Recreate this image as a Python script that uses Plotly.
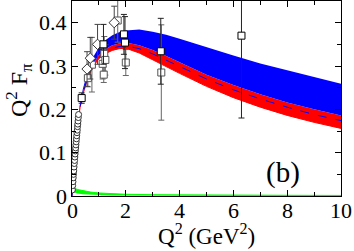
import plotly.graph_objects as go

# ---- theory bands ----
band_q2 = [0, 0.05, 0.1, 0.2, 0.3, 0.4, 0.6, 0.8, 1.0, 1.25, 1.5, 1.75, 2.0, 2.5, 3.0, 3.5, 4.0, 5.0, 6.0, 7.0, 8.0, 9.0, 10.0]
blue_top = [0, 0.049, 0.094, 0.168, 0.214, 0.246, 0.292, 0.322, 0.343, 0.360, 0.371, 0.378, 0.382, 0.384, 0.379, 0.372, 0.363, 0.343, 0.324, 0.306, 0.290, 0.274, 0.259]
blue_bot = [0, 0.048, 0.092, 0.164, 0.208, 0.238, 0.281, 0.307, 0.325, 0.339, 0.348, 0.352, 0.354, 0.348, 0.337, 0.323, 0.309, 0.280, 0.256, 0.235, 0.216, 0.200, 0.186]
red_bot = [0, 0.047, 0.090, 0.161, 0.204, 0.233, 0.275, 0.300, 0.317, 0.329, 0.336, 0.340, 0.341, 0.330, 0.314, 0.299, 0.283, 0.253, 0.227, 0.205, 0.186, 0.170, 0.156]
dash_mid = [0, 0.047, 0.091, 0.162, 0.206, 0.235, 0.278, 0.303, 0.320, 0.333, 0.341, 0.345, 0.347, 0.340, 0.328, 0.314, 0.299, 0.270, 0.245, 0.224, 0.205, 0.188, 0.174]

green_q2 = [0.01, 0.05, 0.1, 0.2, 0.4, 0.7, 1.0, 1.5, 2.0, 3.0, 4.0, 6.0, 8.0, 10.0]
green_top = [0.024, 0.021, 0.018, 0.015, 0.012, 0.009, 0.007, 0.005, 0.004, 0.003, 0.0025, 0.002, 0.0016, 0.0013]
green_bot = [0.010, 0.009, 0.008, 0.006, 0.004, 0.003, 0.002, 0.0012, 0.001, 0.0006, 0.0004, 0.0003, 0.0002, 0.0002]

# ---- data ----
circ_q2 = [0.015, 0.025, 0.035, 0.045, 0.055, 0.065, 0.075, 0.085, 0.095, 0.105, 0.115, 0.125,
           0.135, 0.145, 0.155, 0.165, 0.175, 0.185, 0.195, 0.205, 0.215, 0.225, 0.235, 0.245]
circ_val = [0.014, 0.024, 0.033, 0.042, 0.050, 0.058, 0.067, 0.075, 0.082, 0.090, 0.097, 0.104,
            0.111, 0.118, 0.125, 0.132, 0.139, 0.146, 0.152, 0.160, 0.166, 0.173, 0.181, 0.188]

blk_q2 = [0.36, 1.17, 1.93, 1.97, 3.30, 6.30]
blk_val = [0.226, 0.350, 0.373, 0.354, 0.334, 0.370]
blk_err = [0.012, 0.046, 0.046, 0.060, 0.076, 0.190]

gry_q2 = [0.59, 0.74, 1.14, 1.20, 1.24, 1.18, 1.70, 2.00, 3.32]
gry_val = [0.272, 0.303, 0.305, 0.328, 0.314, 0.280, 0.405, 0.308, 0.285]
gry_err = [0.020, 0.063, 0.035, 0.040, 0.035, 0.018, 0.050, 0.030, 0.110]

dia_q2 = [0.56, 0.68, 0.95, 1.57]
dia_val = [0.293, 0.318, 0.350, 0.400]
dia_err = [0.040, 0.048, 0.046, 0.038]

x_ticks = [0, 2, 4, 6, 8, 10]
x_text = ["0", "2", "4", "6", "8", "10"]
y_ticks = [0, 0.1, 0.2, 0.3, 0.4]
y_text = ["0", "0.1", "0.2", "0.3", "0.4"]

fig = go.Figure()

fig.add_trace(go.Scatter(x=band_q2, y=red_bot, mode="lines", line=dict(width=0, color="red"), hoverinfo="skip"))
fig.add_trace(go.Scatter(x=band_q2, y=blue_bot, mode="lines", line=dict(width=0, color="red"),
                         fill="tonexty", fillcolor="#ff0000", hoverinfo="skip"))
fig.add_trace(go.Scatter(x=band_q2, y=blue_bot, mode="lines", line=dict(width=0, color="blue"), hoverinfo="skip"))
fig.add_trace(go.Scatter(x=band_q2, y=blue_top, mode="lines", line=dict(width=0, color="blue"),
                         fill="tonexty", fillcolor="#0000ff", hoverinfo="skip"))
fig.add_trace(go.Scatter(x=band_q2, y=red_bot, mode="lines", line=dict(width=1, color="#ff0000")))
fig.add_trace(go.Scatter(x=band_q2, y=dash_mid, mode="lines", line=dict(width=1, color="#0000ff", dash="dash")))
fig.add_trace(go.Scatter(x=green_q2, y=green_bot, mode="lines", line=dict(width=0, color="#00ff00")))
fig.add_trace(go.Scatter(x=green_q2, y=green_top, mode="lines", line=dict(width=1, color="#00ff00"),
                         fill="tonexty", fillcolor="#00ff00"))

fig.add_trace(go.Scatter(x=gry_q2, y=gry_val, mode="markers",
                         error_y=dict(type="data", array=gry_err, color="#666666", thickness=1, width=3),
                         marker=dict(symbol="square", size=7, color="white", line=dict(color="#555555", width=1))))
fig.add_trace(go.Scatter(x=dia_q2, y=dia_val, mode="markers",
                         error_y=dict(type="data", array=dia_err, color="#444444", thickness=1, width=3),
                         marker=dict(symbol="diamond", size=8, color="white", line=dict(color="#333333", width=1))))
fig.add_trace(go.Scatter(x=blk_q2, y=blk_val, mode="markers",
                         error_y=dict(type="data", array=blk_err, color="#222222", thickness=1, width=3),
                         marker=dict(symbol="square", size=7, color="white", line=dict(color="black", width=1))))
fig.add_trace(go.Scatter(x=circ_q2, y=circ_val, mode="markers",
                         marker=dict(symbol="circle", size=6, color="white", line=dict(color="#333333", width=1))))

font = "Times New Roman"
plot_w = 354 - 72 - 13
plot_h = 251 - 1 - 55

annots = []
for v, t in zip(x_ticks, x_text):
    annots.append(dict(text=t, x=v, y=0, xref="x", yref="paper", showarrow=False,
                       xanchor="center", yanchor="middle", yshift=-14,
                       font=dict(family=font, size=22, color="black")))
for v, t in zip(y_ticks, y_text):
    annots.append(dict(text=t, x=0, y=v, xref="paper", yref="y", showarrow=False,
                       xanchor="right", yanchor="middle", xshift=-3,
                       font=dict(family=font, size=22, color="black")))
annots.append(dict(text="Q<sup>2</sup> (GeV<sup>2</sup>)", x=0.5, y=(196 - 234) / plot_h,
                   xref="paper", yref="paper", showarrow=False, xanchor="center", yanchor="middle",
                   font=dict(family=font, size=23, color="black")))
annots.append(dict(text="Q<sup>2</sup> F<sub>π</sub>", x=(19 - 72) / plot_w, y=(196 - 90) / plot_h,
                   xref="paper", yref="paper", showarrow=False, xanchor="center", yanchor="middle",
                   textangle=-90, font=dict(family=font, size=24, color="black")))
annots.append(dict(text="(b)", x=(283 - 72) / plot_w, y=(196 - 172) / plot_h, xref="paper", yref="paper",
                   showarrow=False, xanchor="center", yanchor="middle",
                   font=dict(family=font, size=29, color="black")))

fig.update_layout(
    width=354, height=251,
    margin=dict(l=72, r=13, t=1, b=55, autoexpand=False),
    plot_bgcolor="white", paper_bgcolor="white",
    showlegend=False,
    font=dict(family=font, size=21, color="black"),
    xaxis=dict(range=[0, 10], tickvals=x_ticks, showticklabels=False, ticks="inside", ticklen=6, tickcolor="black",
               showline=True, linecolor="black", linewidth=1, mirror="ticks", showgrid=False, zeroline=False,
               minor=dict(dtick=1, ticks="inside", ticklen=4, tickcolor="black", showgrid=False)),
    yaxis=dict(range=[0, 0.45], tickvals=y_ticks, showticklabels=False, ticks="inside", ticklen=6, tickcolor="black",
               showline=True, linecolor="black", linewidth=1, mirror="ticks", showgrid=False, zeroline=False,
               minor=dict(dtick=0.05, ticks="inside", ticklen=4, tickcolor="black", showgrid=False)),
    annotations=annots,
)

fig.write_html("out.html", config={"displayModeBar": False},
               post_script="document.body.style.margin='0';")
